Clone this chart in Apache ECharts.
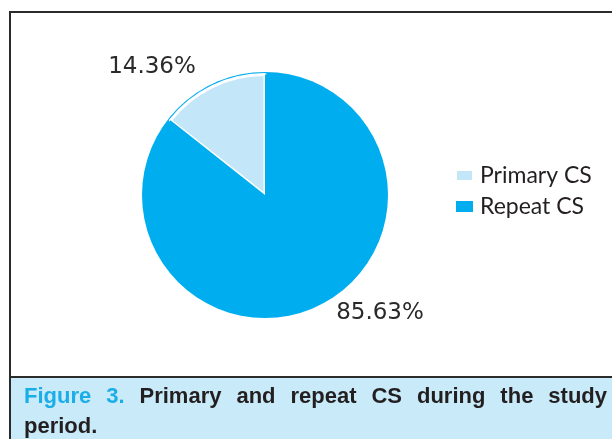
<!DOCTYPE html>
<html><head><meta charset="utf-8">
<script src="https://cdn.jsdelivr.net/npm/echarts@6/dist/echarts.min.js"></script>
<style>html,body{margin:0;padding:0;background:#fff}#c{width:612px;height:439px}</style>
</head><body><div id="c"></div>
<script>
var categories = ['Primary CS', 'Repeat CS'];
var values = [14.36, 85.63];
var labelTexts = ['14.36%', '85.63%'];
var captionLead = ['Figure', '3.'];
var captionLine1 = ['Primary', 'and', 'repeat', 'CS', 'during', 'the', 'study'];
var captionLine2 = ['period.'];

var colors = ['#c3e7f9', '#00aeef'];
var labelPos = [[152, 67], [380, 313]];

var chart = echarts.init(document.getElementById('c'), null, {renderer: 'canvas'});

var capFont = 'bold 22px "Liberation Sans", Arial, sans-serif';
var cv = document.createElement('canvas').getContext('2d');
cv.font = capFont;
var words1 = captionLead.concat(captionLine1);
var widths = words1.map(function (w) { return cv.measureText(w).width; });
var lineL = 24, lineR = 607;
var total = widths.reduce(function (a, b) { return a + b; }, 0);
var gap = (lineR - lineL - total) / (words1.length - 1);
var graphics = [];
graphics.push({type: 'rect', shape: {x: 10, y: 377, width: 620, height: 70}, style: {fill: '#c8eaf9'}, silent: true, z: 0});
graphics.push({type: 'rect', shape: {x: 10, y: 12, width: 620, height: 365}, style: {fill: null, stroke: '#2b2b2b', lineWidth: 2}, silent: true, z: 1});
graphics.push({type: 'line', shape: {x1: 10, y1: 377, x2: 10, y2: 445}, style: {stroke: '#2b2b2b', lineWidth: 2}, silent: true, z: 1});
var x = lineL;
words1.forEach(function (w, i) {
  graphics.push({type: 'text', x: x, y: 408, silent: true, z: 2,
    style: {text: w, font: capFont, fill: i < captionLead.length ? '#1aaee8' : '#231f20', textVerticalAlign: 'bottom'}});
  x += widths[i] + gap;
});
captionLine2.forEach(function (w) {
  graphics.push({type: 'text', x: lineL, y: 438, silent: true, z: 2,
    style: {text: w, font: capFont, fill: '#231f20', textVerticalAlign: 'bottom'}});
});

var data = categories.map(function (c, i) {
  return {name: c, value: values[i], itemStyle: {color: colors[i], borderColor: i === 0 ? '#ffffff' : colors[i], borderWidth: i === 0 ? 3 : 0}};
});

chart.setOption({
  backgroundColor: '#ffffff',
  animation: false,
  graphic: graphics,
  legend: {
    orient: 'vertical', left: 455, top: 164, padding: 0,
    itemWidth: 17, itemHeight: 11, itemGap: 8,
    icon: 'rect',
    data: categories,
    textStyle: {fontFamily: 'Lato', fontSize: 23, color: '#231f20', padding: [0, 0, 0, 2]}
  },
  series: [
    {
      type: 'pie', silent: true, center: [265, 195], radius: [0, 123],
      data: [{value: 1, name: '_ring', itemStyle: {color: '#00aeef'}}],
      label: {show: false}, labelLine: {show: false}, z: 1
    },
    {
      type: 'pie', silent: true, center: [265, 195], radius: [0, 120.5],
      startAngle: 90, clockwise: false,
      data: data,
      label: {
        show: true, position: 'inside',
        formatter: function (p) { return labelTexts[p.dataIndex]; },
        fontFamily: 'DejaVu Sans', fontSize: 23, color: '#2a2a2a'
      },
      labelLine: {show: false},
      labelLayout: function (p) {
        return {x: labelPos[p.dataIndex][0], y: labelPos[p.dataIndex][1], align: 'center', verticalAlign: 'middle'};
      },
      z: 2
    }
  ]
});
</script></body></html>
